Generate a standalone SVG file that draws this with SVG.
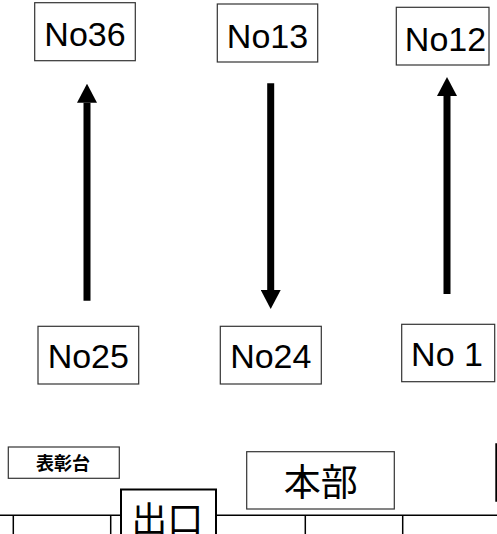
<svg xmlns="http://www.w3.org/2000/svg" width="497" height="534" viewBox="0 0 497 534">
<style>
.box{fill:#fff;stroke:#333;stroke-width:1.2}
.lbl{font-family:"Liberation Sans",Arial,sans-serif;font-size:34px;fill:#000;text-anchor:middle}
.cjk{font-family:"Noto Sans CJK JP","Noto Sans CJK SC",sans-serif;fill:#000;text-anchor:middle}
.shaft{stroke:#000;stroke-width:7;fill:none}
.ln{stroke:#000;stroke-width:1.5;fill:none}
</style>
<defs>
<marker id="ah" markerUnits="userSpaceOnUse" markerWidth="19" markerHeight="20" viewBox="0 0 18.5 19.5" refX="0" refY="9.75" orient="auto">
<path d="M0,0 L18.5,9.75 L0,19.5 z" fill="#000"/>
</marker>
</defs>
<g id="connectors">
<line class="shaft" x1="87" y1="300.7" x2="87" y2="102.7" marker-end="url(#ah)"/>
<line class="shaft" x1="270.7" y1="83.3" x2="270.7" y2="290" marker-end="url(#ah)"/>
<line class="shaft" x1="447" y1="294" x2="447" y2="96" marker-end="url(#ah)"/>
</g>
<g id="No36"><rect class="box" x="34.7" y="2.7" width="100.6" height="58"/><text class="lbl" x="85" y="45.5">No36</text></g>
<g id="No13"><rect class="box" x="217.3" y="4" width="100.4" height="58"/><text class="lbl" x="267.5" y="47.5">No13</text></g>
<g id="No12"><rect class="box" x="396.3" y="7.3" width="92.7" height="57.7"/><text class="lbl" x="445.5" y="51">No12</text></g>
<g id="No25"><rect class="box" x="38" y="326.3" width="100.7" height="57.7"/><text class="lbl" x="88.3" y="368.3">No25</text></g>
<g id="No24"><rect class="box" x="220.3" y="326.3" width="101" height="57.7"/><text class="lbl" x="270.8" y="368.3">No24</text></g>
<g id="No1"><rect class="box" x="401.7" y="324.3" width="93" height="57.4"/><text class="lbl" x="447" y="366.3">No 1</text></g>
<g id="floor">
<line class="ln" x1="0" y1="515.3" x2="497" y2="515.3"/>
<line class="ln" x1="13.3" y1="515.3" x2="13.3" y2="534"/>
<line class="ln" x1="110.7" y1="515.3" x2="110.7" y2="534"/>
<line class="ln" x1="305.3" y1="515.3" x2="305.3" y2="534"/>
<line class="ln" x1="402.7" y1="515.3" x2="402.7" y2="534"/>
<line x1="496.3" y1="443.3" x2="496.3" y2="501.7" stroke="#000" stroke-width="2"/>
</g>
<g id="hyoshodai"><rect class="box" x="8.3" y="447" width="111" height="31.3"/><text class="cjk" x="63" y="470" font-size="18" font-weight="bold">表彰台</text></g>
<g id="honbu"><rect class="box" x="246.7" y="451.7" width="147.6" height="57.3"/><text class="cjk" x="320.8" y="496" font-size="37">本部</text></g>
<g id="deguchi"><rect x="121" y="489.5" width="95" height="50" fill="#fff" stroke="#000" stroke-width="2"/><text class="cjk" x="167.2" y="533" font-size="36">出口</text></g>
</svg>
